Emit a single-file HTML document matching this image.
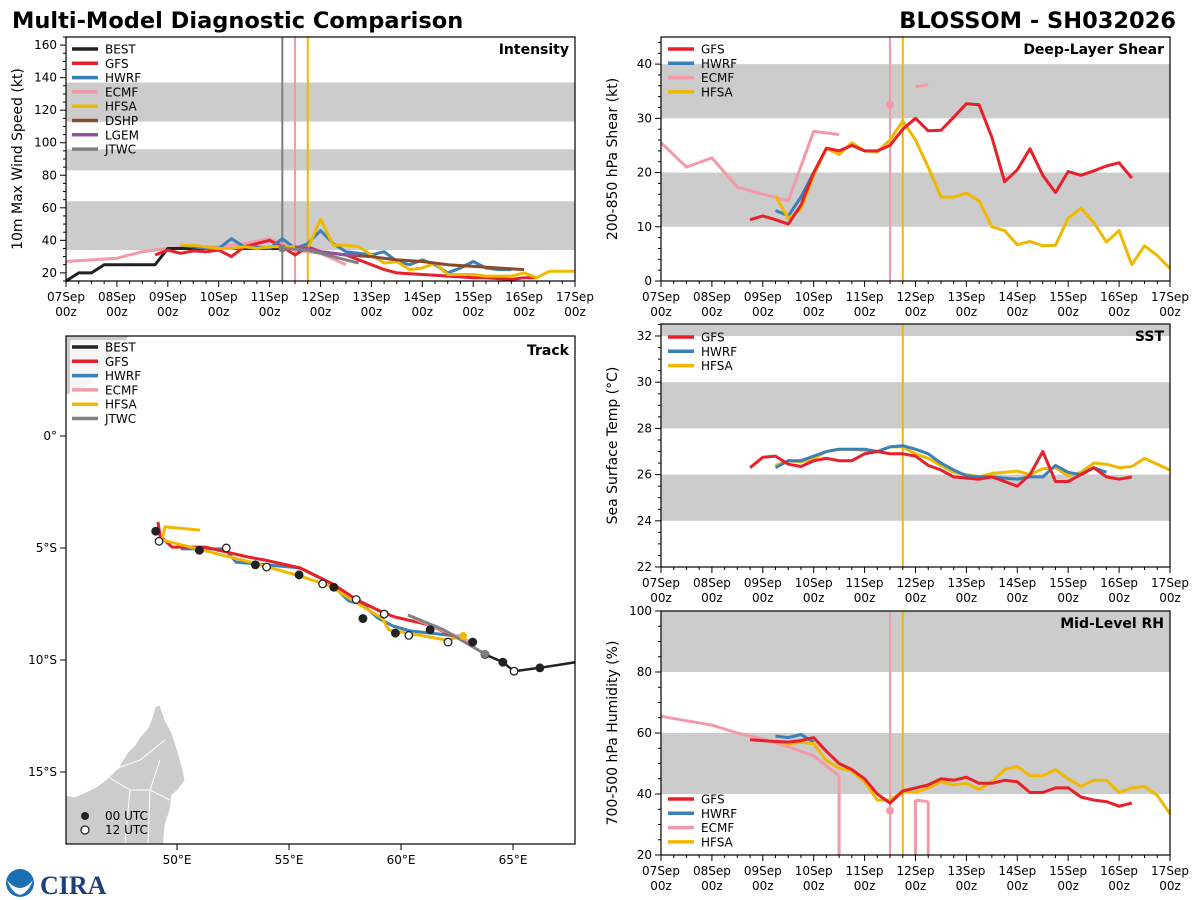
<!DOCTYPE html>
<html><head><meta charset="utf-8"><style>
html,body{margin:0;padding:0;background:#fff;}
svg{display:block;font-family:"DejaVu Sans","Liberation Sans",sans-serif;}
</style></head><body>
<svg id="fig" width="1200" height="900" viewBox="0 0 1200 900" xmlns="http://www.w3.org/2000/svg">
<text x="12" y="28" font-size="22.5" font-weight="bold">Multi-Model Diagnostic Comparison</text>
<text x="1176" y="28" font-size="22.5" font-weight="bold" text-anchor="end">BLOSSOM - SH032026</text>
<g>
<circle cx="20" cy="883" r="14" fill="#1a6fb5"/><path d="M7,880 Q20,896 33,880 Q28,893 20,895 Q12,893 7,880Z" fill="#fff"/>
<text x="40" y="894" font-size="26" font-weight="bold" fill="#1d3f7a" font-family="Liberation Serif,serif">CIRA</text>
</g>
</svg>
<script>
const NS="http://www.w3.org/2000/svg";
const svg=document.getElementById('fig');
const C={BEST:"#222222",GFS:"#e8202a",HWRF:"#3a80b9",ECMF:"#f29aa8",HFSA:"#f0b800",DSHP:"#8b4a2b",LGEM:"#9450a0",JTWC:"#808080"};
const dayLabels=["07Sep","08Sep","09Sep","10Sep","11Sep","12Sep","13Sep","14Sep","15Sep","16Sep","17Sep"];

// ---- Intensity data (kt), step 6h unless noted; start in days from 07Sep00z
const intBestStart=0; const intBest=[15,20,20,25,25,25,25,25,35,35,35,35,35,35,35,35,35,35];
const intGfsStart=1.75; const intGfs=[31,34,32,33.5,33,34,30,36,38,40,36,31,36,33,32,31,28,25,22,20,19.5,19,18.5,18,17.5,17,17,16.5,16,17,17];
const intHwrfStart=2.25; const intHwrf=[37,36,35,35,41,36,36,35,41,35,38,46,38,33,32,31,33,27,25,28,25,20,23,27,23,22,22];
const intHfsaStart=2.25; const intHfsa=[37,37,36,35,35,36,35,36,36,36,35,53,37,37,36,31,26,27,22,23,26,19,19,19,18,18,18,20,17,21,21,21];
const intEcmfStart=0; const intEcmf=[27,28,29,33,35,36,36,38,41,34,32,25]; // 12h step
const intDshpStart=4.5; const intDshp=[36,33,31,30,28,27,25,24,23,22]; // 12h step
const intLgemStart=4.5; const intLgem=[36,35,33,32,31,31];
const intJtwcStart=4.25; const intJtwc=[35,34.5,34,32,30,28,26];
// ---- Shear (kt)
const shGfsStart=1.75; const shGfs=[11.3,12,11.3,10.5,14,20,24.5,24,25,24,24,25,28,30,27.7,27.8,30.2,32.7,32.5,26.5,18.3,20.5,24.4,19.5,16.3,20.2,19.5,20.3,21.2,21.8,19];
const shHfsaStart=2.25; const shHfsa=[15.7,11.5,13.3,19.5,24.5,23.3,25.5,24,23.8,26,29.5,26,21,15.5,15.5,16.2,14.8,10,9.3,6.7,7.3,6.5,6.6,11.6,13.4,10.8,7.2,9.3,3,6.5,4.7,2.3];
const shHwrfStart=2.25; const shHwrf=[13,12,15.5,20];
const shEcmfStart=0; const shEcmf=[25.5,21,22.7,17.3,16,14.8,27.6,27]; // 12h step
const shEcmf2Start=5.0; const shEcmf2=[35.8,36.2];
// ---- SST (C)
const sstGfsStart=1.75; const sstGfs=[26.3,26.75,26.8,26.45,26.35,26.6,26.7,26.6,26.6,26.9,27.0,26.9,26.9,26.8,26.4,26.2,25.9,25.85,25.8,25.9,25.7,25.5,26.0,27.0,25.7,25.7,26.0,26.3,25.9,25.8,25.9];
const sstHwrfStart=2.25; const sstHwrf=[26.3,26.6,26.6,26.8,27.0,27.1,27.1,27.1,27.0,27.2,27.25,27.1,26.9,26.5,26.2,25.95,25.9,25.9,25.85,25.8,25.9,25.9,26.4,26.1,26.0,26.3,26.1];
const sstHfsaStart=2.25; const sstHfsa=[26.4,26.6,26.55,26.7,27.0,27.1,27.1,27.05,27.0,27.2,27.2,26.9,26.7,26.4,26.1,26.0,25.9,26.05,26.1,26.15,26.0,26.25,26.3,25.95,26.1,26.5,26.45,26.3,26.35,26.7,26.45,26.2];
// ---- RH (%)
const rhGfsStart=1.75; const rhGfs=[57.8,57.5,57.2,57,57.5,58.5,54,50,48,45,40,37,41,42,43,45,44.5,45.5,43.5,43.5,44.5,44,40.5,40.5,42,42,39,38,37.5,36,37];
const rhHwrfStart=2.25; const rhHwrf=[59,58.5,59.5,57];
const rhHfsaStart=2.25; const rhHfsa=[57.5,56.5,57,56.5,51,48.5,47.5,44,38,38,41,40.5,42,44,43,43.5,41.5,44,48,49,46,46,48,45,42.5,44.5,44.5,40.5,42,42.5,39.5,33.5];
const rhEcmfStart=0; const rhEcmf=[65.5,64,62.6,60,58,55.5,52.5,46,20]; // 12h step, last value = drop at 3.5
const rhEcmf2Start=5.0; const rhEcmf2=[38,37.5,20];
// ---- Track (lon E, lat N)
const bestLon=[67.8,66.2,65.05,64.55,63.75,63.2,62.1,61.3,60.35,59.75,59.25,58.3,58.0,57.0,56.5,55.45,54.0,53.5,52.2,51.0,49.2,49.05];
const bestLat=[-10.1,-10.35,-10.5,-10.1,-9.75,-9.2,-9.2,-8.65,-8.9,-8.8,-7.95,-8.15,-7.3,-6.75,-6.6,-6.2,-5.85,-5.75,-5.0,-5.1,-4.7,-4.25];
const gfsLon=[62.41,61.29,59.73,59.15,58.04,56.96,55.49,53.93,53.17,51.25,49.78,49.24,49.15];
const gfsLat=[-8.97,-8.44,-8.08,-7.86,-7.32,-6.61,-5.89,-5.54,-5.40,-4.96,-4.96,-4.46,-3.84];
const hwrfLon=[62.86,60.4,59.64,58.97,58.26,57.68,56.83,55.49,52.63,52.14,50.18];
const hwrfLat=[-8.97,-8.7,-8.48,-8.13,-7.5,-7.37,-6.56,-5.89,-5.63,-5.04,-5.04];
const hfsaLon=[62.77,62.05,60.27,59.46,59.15,58.04,56.83,55.49,53.26,49.33,49.46,51.03];
const hfsaLat=[-8.93,-9.11,-8.79,-8.66,-8.13,-7.46,-6.7,-6.25,-5.63,-4.64,-4.06,-4.2];
const ecmfLon=[63.21,60.54]; const ecmfLat=[-9.24,-8.13];
const jtwcLon=[63.75,61.9,60.31]; const jtwcLat=[-9.73,-8.65,-7.99];

function el(tag,attrs,parent){const e=document.createElementNS(NS,tag);for(const k in attrs)e.setAttribute(k,attrs[k]);(parent||svg).appendChild(e);return e;}

function panel(name,x0,y0,x1,y1,ymin,ymax,major,minor,bands,ytitle,title){
  const g=el('g',{});
  
  
  const P={x0,y0,x1,y1,g,
    sx:d=>x0+(x1-x0)*d/10,
    sy:v=>y1-(y1-y0)*(v-ymin)/(ymax-ymin)};
  bands.forEach(b=>{const r=el('rect',{x:x0,y:P.sy(Math.min(b[1],ymax)),width:x1-x0,height:P.sy(b[0])-P.sy(Math.min(b[1],ymax)),fill:'#cccccc'},g);
    });
  for(let i=0;i<=40;i++){const x=x0+(x1-x0)*i/40;el('line',{x1:x,x2:x,y1:y1,y2:y1+(i%4==0?6:3),stroke:'#000','stroke-width':1},g);}
  for(let d=0;d<=10;d++){const t=el('text',{x:P.sx(d),y:y1+20,'font-size':12,'text-anchor':'middle'},g);t.textContent=dayLabels[d];
    
    const t2=el('text',{x:P.sx(d),y:y1+35,'font-size':12,'text-anchor':'middle'},g);t2.textContent='00z';}
  for(let v=Math.ceil(ymin/minor)*minor;v<=ymax+1e-9;v+=minor){const y=P.sy(v);const isM=Math.abs(v/major-Math.round(v/major))<1e-6;
    el('line',{x1:x0,x2:x0-(isM?6:3),y1:y,y2:y,stroke:'#000','stroke-width':1},g);
    if(isM){const t=el('text',{x:x0-9,y:y+4,'font-size':12,'text-anchor':'end'},g);t.textContent=Math.round(v);
      }}
  const yt=el('text',{transform:`translate(${x0-44},${(y0+y1)/2}) rotate(-90)`,'font-size':14,'text-anchor':'middle'},g);yt.textContent=ytitle;
  
  const tt=el('text',{x:x1-6,y:y0+17,'font-size':14,'font-weight':'bold','text-anchor':'end'},g);tt.textContent=title;
  
  P.frame=()=>el('rect',{x:x0,y:y0,width:x1-x0,height:y1-y0,fill:'none',stroke:'#000','stroke-width':1.2},g);
  P.series=(start,step,vals,color,nm)=>{let d='';let pen=false;
    vals.forEach((v,i)=>{if(v===null){pen=false;return;}const x=P.sx(start+i*step),y=P.sy(v);d+=(pen?'L':'M')+x.toFixed(1)+','+y.toFixed(1);pen=true;});
    const p=el('path',{d,fill:'none',stroke:color,'stroke-width':3,'stroke-linejoin':'round'},g);
    return p;};
  P.vline=(d,color)=>{const l=el('line',{x1:P.sx(d),x2:P.sx(d),y1:y0,y2:y1,stroke:color,'stroke-width':2},g);
    };
  P.dot=(d,v,color)=>{const c=el('circle',{cx:P.sx(d),cy:P.sy(v),r:4,fill:color},g);
    };
  return P;
}
function legend(g,x,y,names){
  names.forEach((n,i)=>{const yy=y+i*14.3;
    el('line',{x1:x,x2:x+26,y1:yy,y2:yy,stroke:C[n],'stroke-width':3.5},g);
    const t=el('text',{x:x+33,y:yy+4.5,'font-size':12},g);t.textContent=n;
    });
}

// Intensity
const PI=panel('intensity',66,37,575,281,15,165,20,5,[[34,64],[83,96],[113,137]],'10m Max Wind Speed (kt)','Intensity');
PI.vline(4.25,'#808080');PI.vline(4.5,C.ECMF);PI.vline(4.75,C.HFSA);
PI.series(intEcmfStart,0.5,intEcmf,C.ECMF,'ecmf-intensity-line');
PI.series(intBestStart,0.25,intBest,C.BEST,'best-intensity-line');
PI.series(intGfsStart,0.25,intGfs,C.GFS,'gfs-intensity-line');
PI.series(intHwrfStart,0.25,intHwrf,C.HWRF,'hwrf-intensity-line');
PI.series(intHfsaStart,0.25,intHfsa,C.HFSA,'hfsa-intensity-line');
PI.series(intDshpStart,0.5,intDshp,C.DSHP,'dshp-intensity-line');
PI.series(intLgemStart,0.25,intLgem,C.LGEM,'lgem-intensity-line');
PI.series(intJtwcStart,0.25,intJtwc,C.JTWC,'jtwc-intensity-line');
PI.dot(4.25,35,'#808080');
legend(PI.g,72,49,['BEST','GFS','HWRF','ECMF','HFSA','DSHP','LGEM','JTWC']);
PI.frame();

// Shear
const PS=panel('shear',661,37,1170,281,0,45,10,2,[[10,20],[30,40]],'200-850 hPa Shear (kt)','Deep-Layer Shear');
PS.vline(4.5,C.ECMF);PS.vline(4.75,C.HFSA);
PS.series(shEcmfStart,0.5,shEcmf,C.ECMF,'ecmf-shear-line');
PS.series(shEcmf2Start,0.25,shEcmf2,C.ECMF,'ecmf-shear-line-2');
PS.series(shHwrfStart,0.25,shHwrf,C.HWRF,'hwrf-shear-line');
PS.series(shHfsaStart,0.25,shHfsa,C.HFSA,'hfsa-shear-line');
PS.series(shGfsStart,0.25,shGfs,C.GFS,'gfs-shear-line');
PS.dot(4.5,32.5,C.ECMF);
legend(PS.g,668,49,['GFS','HWRF','ECMF','HFSA']);
PS.frame();

// SST
const PT=panel('sst',661,324,1170,567,22,32.52,2,0.5,[[24,26],[28,30],[32,33]],'Sea Surface Temp (°C)','SST');
PT.vline(4.75,C.HFSA);
PT.series(sstHfsaStart,0.25,sstHfsa,C.HFSA,'hfsa-sst-line');
PT.series(sstHwrfStart,0.25,sstHwrf,C.HWRF,'hwrf-sst-line');
PT.series(sstGfsStart,0.25,sstGfs,C.GFS,'gfs-sst-line');
legend(PT.g,668,337,['GFS','HWRF','HFSA']);
PT.frame();

// RH
const PR=panel('rh',661,611,1170,855,20,100,20,5,[[40,60],[80,100]],'700-500 hPa Humidity (%)','Mid-Level RH');
PR.vline(4.5,C.ECMF);PR.vline(4.75,C.HFSA);
PR.series(rhEcmfStart,0.5,rhEcmf.slice(0,8),C.ECMF,'ecmf-rh-line');
PR.series(3.5,0,[rhEcmf[7],rhEcmf[8]],C.ECMF,'ecmf-rh-drop');
PR.series(rhEcmf2Start,0.25,rhEcmf2.slice(0,2),C.ECMF,'ecmf-rh-line-2');
PR.series(rhEcmf2Start,0,[rhEcmf2[0],rhEcmf2[2]],C.ECMF,'ecmf-rh-drop-2');
PR.series(5.25,0,[rhEcmf2[1],rhEcmf2[2]],C.ECMF,'ecmf-rh-drop-3');
PR.series(rhHwrfStart,0.25,rhHwrf,C.HWRF,'hwrf-rh-line');
PR.series(rhHfsaStart,0.25,rhHfsa,C.HFSA,'hfsa-rh-line');
PR.series(rhGfsStart,0.25,rhGfs,C.GFS,'gfs-rh-line');
PR.dot(4.5,34.5,C.ECMF);
legend(PR.g,668,799,['GFS','HWRF','ECMF','HFSA']);
PR.frame();

// Track
(function(){
  const x0=66,y0=336,x1=575,y1=844;
  const g=el('g',{});
  
  
  const sx=lon=>177+(lon-50)*22.4, sy=lat=>436-lat*22.4;
  const clip=el('clipPath',{id:'tc'},g);el('rect',{x:x0,y:y0,width:x1-x0,height:y1-y0},clip);
  const inner=el('g',{'clip-path':'url(#tc)'},g);
  const mad=el('polygon',{points:'155,707 160,705 165,720 172,733 178,752 183,770 185,780 178,790 172,795 170,810 165,825 163,850 60,850 60,794 75,797 90,790 98,786 108,778 118,768 128,752 135,745 140,737 148,728 152,718',fill:'#cccccc',stroke:'#fff','stroke-width':1},inner);
  
  el('path',{d:'M110,778 L130,790 L150,790 L170,800 M130,790 L125,844 M150,790 L148,844 M160,760 L150,790 M118,768 L140,760 L165,740',fill:'none',stroke:'#fff','stroke-width':1},inner);
  const af=el('polygon',{points:'60,330 133,330 120,350 100,375 80,392 60,396',fill:'#cccccc',stroke:'#fff','stroke-width':1},inner);
  
  function trk(lons,lats,color,nm,w){const d=lons.map((l,i)=>(i?'L':'M')+sx(l).toFixed(1)+','+sy(lats[i]).toFixed(1)).join('');
    const p=el('path',{d,fill:'none',stroke:color,'stroke-width':w||3,'stroke-linejoin':'round'},inner);
    }
  trk(bestLon.slice(0,5),bestLat.slice(0,5),C.BEST,'best-track',2.5);
  trk(hwrfLon,hwrfLat,C.HWRF,'hwrf-track');
  trk(gfsLon,gfsLat,C.GFS,'gfs-track');
  trk(hfsaLon,hfsaLat,C.HFSA,'hfsa-track');
  trk(ecmfLon,ecmfLat,C.ECMF,'ecmf-track');
  trk(jtwcLon,jtwcLat,C.JTWC,'jtwc-track');
  bestLon.forEach((l,i)=>{if(i==0)return;const c=el('circle',{cx:sx(l),cy:sy(bestLat[i]),r:3.8,fill:i%2? '#222':'#fff',stroke:'#222','stroke-width':1.3},inner);
    });
  el('circle',{cx:sx(jtwcLon[0]),cy:sy(jtwcLat[0]),r:4,fill:'#808080'},inner);
  el('circle',{cx:sx(hfsaLon[0]),cy:sy(hfsaLat[0]),r:4,fill:C.HFSA},inner);
  el('rect',{x:70,y:340,width:72,height:88,fill:'#fff','fill-opacity':0.8,rx:2},g);
  legend(g,72,347,['BEST','GFS','HWRF','ECMF','HFSA','JTWC']);
  el('circle',{cx:85,cy:816,r:4,fill:'#222'},g);
  el('circle',{cx:85,cy:830,r:4,fill:'#fff',stroke:'#222','stroke-width':1.3},g);
  const u0=el('text',{x:105,y:820,'font-size':12},g);u0.textContent='00 UTC';
  
  const u1=el('text',{x:105,y:834,'font-size':12},g);u1.textContent='12 UTC';
  
  [50,55,60,65].forEach(l=>{el('line',{x1:sx(l),x2:sx(l),y1:y1,y2:y1+6,stroke:'#000'},g);
    const t=el('text',{x:sx(l),y:y1+20,'font-size':12,'text-anchor':'middle'},g);t.textContent=l+'°E';
    });
  [[0,'0°'],[-5,'5°S'],[-10,'10°S'],[-15,'15°S']].forEach(a=>{el('line',{x1:x0,x2:x0-6,y1:sy(a[0]),y2:sy(a[0]),stroke:'#000'},g);
    const t=el('text',{x:x0-9,y:sy(a[0])+4,'font-size':12,'text-anchor':'end'},g);t.textContent=a[1];
    });
  const tt=el('text',{x:x1-6,y:y0+19,'font-size':14,'font-weight':'bold','text-anchor':'end'},g);tt.textContent='Track';
  
  el('rect',{x:x0,y:y0,width:x1-x0,height:y1-y0,fill:'none',stroke:'#000','stroke-width':1.2},g);
})();
</script>
</body></html>
